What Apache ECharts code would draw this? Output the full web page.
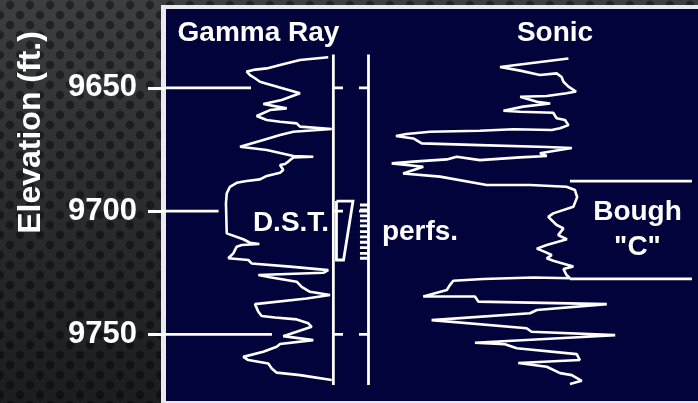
<!DOCTYPE html>
<html><head><meta charset="utf-8">
<script src="https://cdn.jsdelivr.net/npm/echarts@6/dist/echarts.min.js"></script>
<style>html,body{margin:0;padding:0;background:#2b2c2f}#c{width:698px;height:403px}</style>
</head><body><div id="c"></div>
<script>
// ---- data (depth in ft, gamma in API, sonic in us/ft) ----
const depthTicks = [9650, 9700, 9750];
const depthLabels = ['9650', '9700', '9750'];
const gammaDepth = [9637.6,9638.7,9640.7,9642.1,9642.7,9643.4,9644.8,9646.1,9647.5,9648.1,9650.2,9652.2,9654.9,9656.5,9658.3,9659.0,9661.4,9663.0,9663.7,9664.4,9665.7,9666.7,9667.8,9669.1,9671.1,9673.9,9675.2,9677.6,9677.9,9678.2,9679.9,9680.9,9681.3,9683.3,9684.4,9685.7,9687.1,9687.8,9688.5,9690.1,9692.8,9696.8,9709.0,9709.7,9711.4,9712.8,9713.3,9713.7,9714.4,9717.1,9719.1,9719.8,9721.2,9722.5,9723.9,9725.0,9725.9,9726.8,9728.6,9730.7,9732.7,9734.0,9735.4,9737.7,9740.8,9742.5,9743.1,9743.9,9745.5,9746.9,9750.7,9752.3,9753.9,9755.0,9757.0,9759.1,9760.4,9761.8,9763.8,9765.5,9766.5,9768.5];
const gammaApi = [146.4,120.9,102.9,90.9,78.8,72.8,75.8,80.3,84.8,89.3,105.8,120.9,104.4,87.8,108.9,93.8,81.8,90.9,102.9,117.9,120.9,149.5,114.9,102.9,87.8,66.8,90.9,114.9,132.9,114.9,110.3,107.4,102.9,105.8,102.9,90.9,84.8,72.8,63.8,57.7,54.8,54.1,54.8,56.2,69.7,75.8,84.2,68.3,63.8,60.7,56.2,74.3,77.3,111.9,146.4,141.9,83.3,93.8,117.9,122.4,129.9,148.0,126.9,80.3,83.3,86.3,98.3,117.9,128.4,131.4,105.8,132.9,102.9,99.9,87.8,69.7,74.3,92.3,95.4,99.9,120.9,149.5];
const sonicDepth = [9638.1,9641.5,9643.0,9644.8,9644.1,9645.6,9647.5,9649.5,9651.5,9652.2,9653.3,9653.6,9655.6,9656.3,9657.6,9659.3,9659.7,9660.1,9662.3,9663.0,9665.1,9666.4,9667.1,9666.8,9667.4,9667.8,9668.7,9669.5,9670.5,9672.5,9673.2,9674.0,9674.4,9676.5,9677.6,9678.2,9679.3,9677.9,9679.0,9679.9,9680.6,9682.0,9684.7,9686.0,9689.4,9689.4,9690.1,9691.4,9694.3,9698.2,9700.9,9702.3,9705.6,9707.0,9709.7,9711.4,9713.7,9715.2,9716.5,9717.8,9719.1,9720.1,9720.9,9722.4,9723.5,9725.9,9727.2,9726.9,9727.5,9728.2,9730.0,9732.0,9734.6,9734.6,9736.7,9737.7,9740.1,9741.4,9744.2,9747.5,9748.9,9750.3,9753.4,9754.0,9755.6,9758.0,9760.4,9761.6,9763.1,9765.7,9766.5,9768.8,9770.1];
const sonicDt = [74.1,92.1,86.8,81.6,77.2,75.9,75.4,74.1,72.1,74.6,79.8,86.8,82.4,78.9,86.0,91.2,86.8,78.1,77.2,75.0,74.1,76.3,78.5,88.6,97.4,110.5,116.7,119.5,114.9,112.7,97.4,79.8,73.2,81.6,79.8,86.8,97.4,103.5,106.1,114.9,120.6,112.3,117.6,107.9,95.6,84.2,74.6,72.4,71.8,72.8,78.1,79.4,77.2,75.4,76.8,74.5,79.8,82.4,80.3,78.5,79.8,78.1,76.3,72.8,75.4,74.6,73.7,83.3,96.5,104.4,105.3,106.1,112.3,98.7,97.8,64.0,82.4,84.2,110.1,85.1,83.8,61.8,98.7,90.8,87.7,71.9,71.1,87.3,79.8,76.3,73.2,70.6,73.7];
const perfDepths = [9697.5,9699.5,9701.9,9703.9,9706.0,9708.3,9710.4,9712.6,9714.8,9717.1,9719.1];
const dstInterval = [9695.9, 9719.8];
const boughInterval = [9687.8, 9727.5];
const leaderEndsApi = [76.7, 47.4, 95.6];
const trackInterval = [9636.5, 9770.5];

// ---- layout helpers ----
const FONT = '"Liberation Sans", Arial, Helvetica, sans-serif';
const GR_TRACK_EDGE = 151, DEPTH_TRACK_EDGE = 182.7; // on gamma scale
const tile = document.createElement('canvas'); tile.width = 20; tile.height = 20;
const g = tile.getContext('2d');
g.fillStyle = 'rgba(0,0,0,0.42)';
[[10,5],[0,15],[20,15]].forEach(([x,y]) => { g.beginPath(); g.arc(x, y, 4.2, 0, Math.PI*2); g.fill(); });

const seg = (pts) => ({ coords: pts });
const decoGamma = [];
// track borders
decoGamma.push(seg([[GR_TRACK_EDGE, trackInterval[0]], [GR_TRACK_EDGE, trackInterval[1]]]));
decoGamma.push(seg([[DEPTH_TRACK_EDGE, trackInterval[0]], [DEPTH_TRACK_EDGE, trackInterval[1]]]));
depthTicks.forEach((d, i) => {
  decoGamma.push(seg([[GR_TRACK_EDGE, d], [159.7, d]]));
  decoGamma.push(seg([[174.1, d], [DEPTH_TRACK_EDGE, d]]));
  decoGamma.push(seg([[0, d], [leaderEndsApi[i], d]]));
});
perfDepths.forEach(d => decoGamma.push(seg([[175.0, d], [DEPTH_TRACK_EDGE, d]])));
decoGamma.push(seg([[153.8, dstInterval[0]], [168.7, dstInterval[0]], [160.2, dstInterval[1]], [153.8, dstInterval[1]], [153.8, dstInterval[0]]]));
const decoSonic = boughInterval.map(d => seg([[73.7, d], [41.6, d]]));

const txt = (text, x, y, size, extra) => Object.assign({
  type: 'text', x, y, z: 50,
  style: { text, fill: '#ffffff', font: 'bold ' + size + 'px ' + FONT,
    textAlign: 'center', textVerticalAlign: 'middle', align: 'center', verticalAlign: 'middle' }
}, extra || {});

const chart = echarts.init(document.getElementById('c'), null, { renderer: 'canvas' });
chart.setOption({
  animation: false,
  backgroundColor: { type: 'linear', x: 0, y: 0, x2: 0, y2: 1,
    colorStops: [{ offset: 0, color: '#3d3e41' }, { offset: 0.5, color: '#2b2c2f' }, { offset: 1, color: '#1c1d1f' }] },
  grid: { left: 166, right: 0, top: 9, bottom: 2, show: false },
  xAxis: [
    { type: 'value', min: 0, max: 480, show: false },
    { type: 'value', min: 40, max: 180, inverse: true, show: false }
  ],
  yAxis: {
    type: 'value', inverse: true, min: 9618, max: 9777,
    axisLine: { show: false }, splitLine: { show: false },
    axisTick: { show: true, customValues: depthTicks, length: 18, lineStyle: { color: '#ffffff', width: 3 } },
    axisLabel: { customValues: depthTicks, margin: 29, color: '#ffffff', fontSize: 31, fontWeight: 'bold', fontFamily: FONT,
      formatter: v => depthLabels[depthTicks.indexOf(v)] ?? String(v) }
  },
  graphic: [
    { type: 'rect', z: -30, shape: { x: 0, y: 0, width: 698, height: 403 }, style: { fill: { image: tile, repeat: 'repeat' } } },
    { type: 'rect', z: -20, shape: { x: 161, y: 5, width: 540, height: 400 }, style: { fill: '#e9e9ef' } },
    { type: 'rect', z: -19, shape: { x: 166, y: 9, width: 535, height: 392 }, style: { fill: '#02033a' } },
    txt('Elevation (ft.)', 31, 132.5, 32, { rotation: Math.PI / 2 }),
    txt('Gamma Ray', 258.5, 33, 28),
    txt('Sonic', 555, 33, 28),
    txt('D.S.T.', 291, 223, 28),
    txt('perfs.', 420, 232, 28),
    txt('Bough', 637.5, 212.5, 28),
    txt('"C"', 637.5, 247, 28)
  ],
  series: [
    { type: 'line', name: 'Gamma Ray', xAxisIndex: 0, showSymbol: false, symbol: 'none', z: 5,
      lineStyle: { color: '#ffffff', width: 2.6 }, data: gammaDepth.map((d, i) => [gammaApi[i], d]) },
    { type: 'line', name: 'Sonic', xAxisIndex: 1, showSymbol: false, symbol: 'none', z: 5,
      lineStyle: { color: '#ffffff', width: 2.6 }, data: sonicDepth.map((d, i) => [sonicDt[i], d]) },
    { type: 'lines', coordinateSystem: 'cartesian2d', xAxisIndex: 0, polyline: true, z: 4,
      lineStyle: { color: '#ffffff', width: 2.8, opacity: 1 }, data: decoGamma },
    { type: 'lines', coordinateSystem: 'cartesian2d', xAxisIndex: 1, polyline: true, z: 4,
      lineStyle: { color: '#ffffff', width: 2.8, opacity: 1 }, data: decoSonic }
  ]
});
</script></body></html>
